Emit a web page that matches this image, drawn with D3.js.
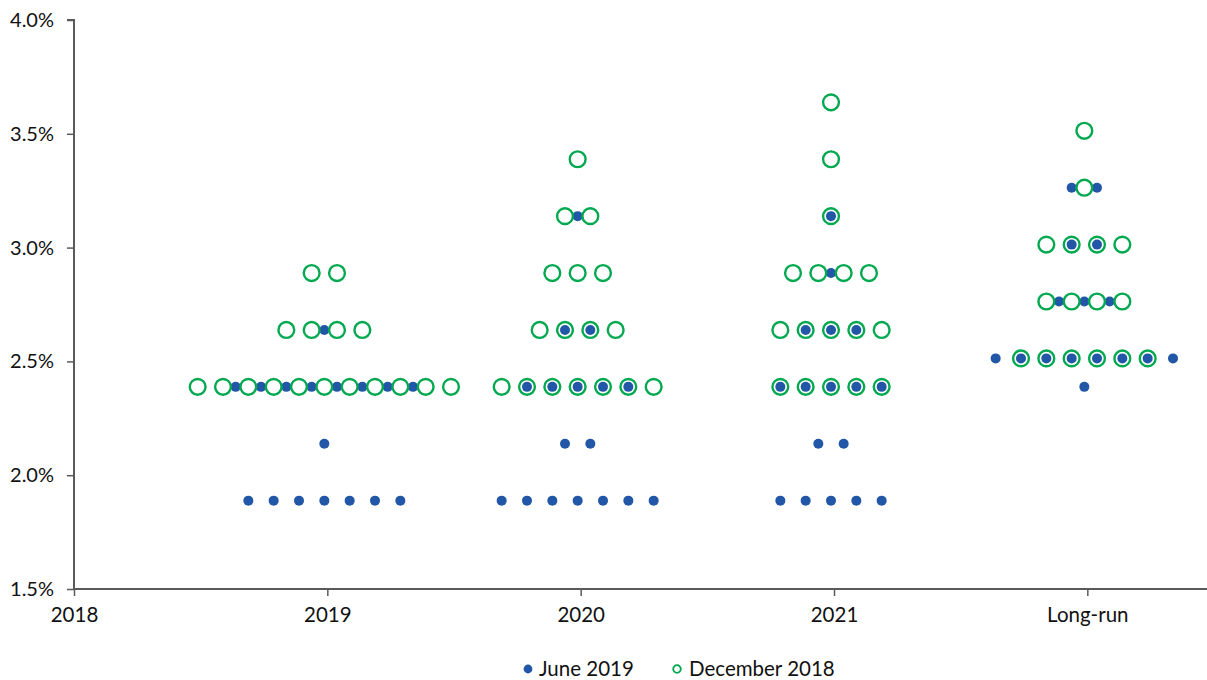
<!DOCTYPE html>
<html>
<head>
<meta charset="utf-8">
<script src="https://cdn.jsdelivr.net/npm/d3@7"></script>
<style>
  html, body { margin: 0; padding: 0; background: #fff; }
  svg { display: block; }
  text { font-family: Lato, "Noto Sans", sans-serif; fill: #111; }
</style>
</head>
<body>
<svg id="chart" width="1207" height="680"></svg>
<script>
// ---- data ----
const categories = ["2018", "2019", "2020", "2021", "Long-run"];
const yTicks = [1.5, 2.0, 2.5, 3.0, 3.5, 4.0];
const seriesNames = ["June 2019", "December 2018"];

// [category, rate (%), number of participants]
const june2019 = [
  ["2019", 2.625, 1], ["2019", 2.375, 8], ["2019", 2.125, 1], ["2019", 1.875, 7],
  ["2020", 3.125, 1], ["2020", 2.625, 2], ["2020", 2.375, 5], ["2020", 2.125, 2], ["2020", 1.875, 7],
  ["2021", 3.125, 1], ["2021", 2.875, 1], ["2021", 2.625, 3], ["2021", 2.375, 5], ["2021", 2.125, 2], ["2021", 1.875, 5],
  ["Long-run", 3.25, 2], ["Long-run", 3.0, 2], ["Long-run", 2.75, 3], ["Long-run", 2.5, 8], ["Long-run", 2.375, 1]
];
const december2018 = [
  ["2019", 2.875, 2], ["2019", 2.625, 4], ["2019", 2.375, 11],
  ["2020", 3.375, 1], ["2020", 3.125, 2], ["2020", 2.875, 3], ["2020", 2.625, 4], ["2020", 2.375, 7],
  ["2021", 3.625, 1], ["2021", 3.375, 1], ["2021", 3.125, 1], ["2021", 2.875, 4], ["2021", 2.625, 5], ["2021", 2.375, 5],
  ["Long-run", 3.5, 1], ["Long-run", 3.25, 1], ["Long-run", 3.0, 4], ["Long-run", 2.75, 4], ["Long-run", 2.5, 6]
];

// ---- layout ----
const W = 1207, H = 680;
const BLUE = "#2157a6", GREEN = "#00a84f", AXIS = "#5a5a5a";
const DOT_STEP = 0.1; // category units between neighbouring dots

const svg = d3.select("#chart");
const x = d3.scaleLinear().domain([0, 4.5]).range([74, 1214]);
const y = d3.scaleLinear().domain([1.5, 4.0]).range([589, 20]);

function expand(rows) {
  const out = [];
  rows.forEach(([cat, rate, n]) => {
    const ci = categories.indexOf(cat);
    for (let j = 0; j < n; j++) {
      out.push({ cx: ci + (j - (n - 1) / 2) * DOT_STEP, rate });
    }
  });
  return out;
}

// y axis
const yAxis = d3.axisLeft(y).tickValues(yTicks).tickSize(7).tickPadding(13)
  .tickFormat(d => d3.format(".1f")(d) + "%");
const gy = svg.append("g").attr("transform", `translate(${x(0)},0)`).call(yAxis);
gy.select(".domain").attr("stroke", AXIS).attr("stroke-width", 2).attr("d", `M-7,${y(4)}H0V${y(1.5)}`);
gy.selectAll(".tick line").attr("stroke", AXIS).attr("stroke-width", 1.5);
gy.selectAll(".tick text").style("font-size", "20px").attr("fill", "#111");

// x axis
const xAxis = d3.axisBottom(x).tickValues(d3.range(categories.length)).tickSize(7).tickPadding(11)
  .tickFormat(i => categories[i]);
const gx = svg.append("g").attr("transform", `translate(0,${y(1.5)})`).call(xAxis);
gx.select(".domain").attr("stroke", AXIS).attr("stroke-width", 2).attr("d", `M${x(0)},0H${W}`);
gx.selectAll(".tick line").attr("stroke", AXIS).attr("stroke-width", 1.5);
gx.selectAll(".tick text").style("font-size", "20.5px").attr("fill", "#111");

// dots
const plot = svg.append("g").attr("transform", "translate(-3,-3)");
plot.append("g").selectAll("circle").data(expand(june2019)).join("circle")
  .attr("cx", d => x(d.cx)).attr("cy", d => y(d.rate)).attr("r", 5).attr("fill", BLUE);
plot.append("g").selectAll("circle").data(expand(december2018)).join("circle")
  .attr("cx", d => x(d.cx)).attr("cy", d => y(d.rate)).attr("r", 7.9)
  .attr("fill", "none").attr("stroke", GREEN).attr("stroke-width", 2.4);

// legend
const leg = svg.append("g");
const l1 = leg.append("g").attr("transform", "translate(528,669)");
l1.append("circle").attr("r", 4.4).attr("fill", BLUE);
l1.append("text").attr("x", 11).attr("y", 7).style("font-size", "20.5px").text(seriesNames[0]);
const l2 = leg.append("g").attr("transform", "translate(677,669)");
l2.append("circle").attr("r", 3.8).attr("fill", "none").attr("stroke", GREEN).attr("stroke-width", 1.8);
l2.append("text").attr("x", 12).attr("y", 7).style("font-size", "20.5px").text(seriesNames[1]);
</script>
</body>
</html>
